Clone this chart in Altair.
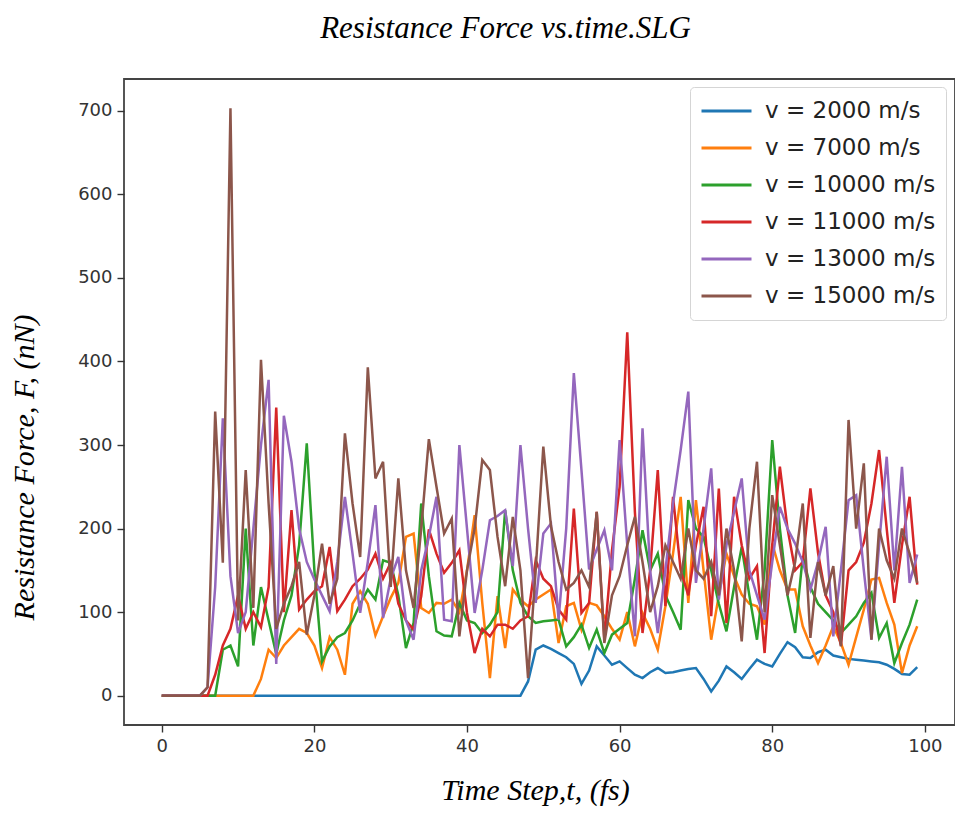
import altair as alt
import pandas as pd

t_steps = list(range(100))

series_labels = ["v = 2000 m/s", "v = 7000 m/s", "v = 10000 m/s",
                 "v = 11000 m/s", "v = 13000 m/s", "v = 15000 m/s"]
series_colors = ["#1f77b4", "#ff7f0e", "#2ca02c", "#d62728", "#9467bd", "#8c564b"]

v2000 = [0, 0, 0, 0, 0, 0, 0, 0, 0, 0, 0, 0, 0, 0, 0, 0, 0, 0, 0, 0,
         0, 0, 0, 0, 0, 0, 0, 0, 0, 0, 0, 0, 0, 0, 0, 0, 0, 0, 0, 0,
         0, 0, 0, 0, 0, 0, 0, 0,
         17, 55, 60, 56, 51, 46, 38, 14, 30, 59,
         48, 37, 41, 33, 25, 21, 28, 33, 27, 28,
         30, 32, 33, 20, 5, 18, 35, 28, 20, 32,
         43, 38, 35, 50, 64, 58, 46, 45, 52, 55,
         48, 46, 44, 43, 42, 41, 40, 37, 32, 26,
         25, 34]

v7000 = [0, 0, 0, 0, 0, 0, 0, 0, 0, 0, 0, 0, 0,
         20, 55, 45, 60, 70, 80, 75, 60, 33, 70,
         55, 25, 110, 125, 110, 72, 95, 117, 135, 190,
         194, 105, 99, 111, 110, 115, 100, 150, 216, 111,
         21, 119, 57, 127, 115, 107, 115, 121, 127, 63,
         107, 111, 79, 111, 108, 95, 80, 67, 100, 59,
         99, 80, 55, 107, 170, 238, 111, 234, 150, 67,
         120, 170, 143, 121, 110, 107, 85, 182, 150, 127,
         127, 83, 60, 39, 60, 83, 63, 37, 70, 103,
         139, 141, 111, 85, 27, 60, 83]

v10000 = [0, 0, 0, 0, 0, 0, 0, 0,
          55, 60, 35, 200, 60, 130, 90, 50, 90, 120,
          180, 302, 150, 41, 59, 70, 75, 90, 110, 127,
          115, 162, 159, 120, 57, 87, 230, 143, 77, 72,
          71, 111, 90, 87, 75, 85, 100, 222, 150, 111,
          95, 87, 89, 90, 91, 59, 70, 85, 57, 79,
          51, 73, 80, 87, 140, 198, 150, 170, 120, 100,
          79, 234, 200, 190, 150, 110, 77, 130, 178, 120,
          67, 150, 306, 200, 120, 75, 167, 130, 110, 100,
          90, 75, 85, 95, 111, 123, 69, 87, 39, 63,
          85, 115]

v11000 = [0, 0, 0, 0, 0, 0, 0,
          25, 60, 80, 120, 80, 100, 82, 130, 345, 100,
          222, 103, 115, 125, 131, 178, 101, 115, 131, 140,
          151, 170, 140, 159, 110, 90, 79, 119, 199, 170,
          147, 159, 174, 99, 51, 80, 71, 85, 85, 80,
          90, 95, 162, 140, 131, 103, 91, 224, 99, 111,
          220, 67, 174, 250, 435, 220, 75, 150, 270, 107,
          238, 150, 120, 180, 226, 95, 248, 87, 238, 180,
          140, 155, 51, 180, 274, 200, 150, 160, 248, 171,
          120, 100, 60, 150, 160, 183, 230, 294, 200, 111,
          180, 238, 133]

v13000 = [0, 0, 0, 0, 0, 0,
          10, 130, 332, 143, 75, 100, 200, 300, 378, 38,
          335, 280, 200, 160, 139, 120, 101, 160, 238, 170,
          99, 160, 228, 93, 140, 166, 90, 67, 150, 190,
          238, 91, 89, 300, 200, 99, 150, 210, 215, 222,
          155, 300, 200, 111, 194, 206, 91, 200, 386, 270,
          151, 175, 198, 150, 306, 180, 71, 320, 150, 75,
          150, 230, 294, 364, 135, 200, 272, 115, 180, 220,
          260, 150, 120, 91, 160, 226, 200, 182, 160, 127,
          160, 202, 71, 150, 234, 240, 150, 67, 180, 286,
          150, 274, 135, 169]

v15000 = [0, 0, 0, 0, 0, 0,
          10, 340, 159, 703, 90, 270, 105, 402, 230, 80,
          110, 131, 160, 73, 120, 182, 110, 140, 314, 230,
          166, 393, 260, 280, 130, 260, 150, 105, 200, 307,
          250, 194, 212, 71, 150, 200, 282, 270, 190, 131,
          214, 150, 21, 150, 298, 203, 160, 127, 135, 150,
          130, 220, 63, 120, 143, 180, 214, 160, 100, 131,
          180, 160, 140, 200, 150, 140, 160, 120, 200, 150,
          65, 200, 280, 100, 240, 180, 120, 160, 230, 69,
          160, 120, 155, 59, 330, 200, 278, 67, 200, 162,
          140, 200, 170, 135]

x_ticks = [0, 20, 40, 60, 80, 100]
y_ticks = [0, 100, 200, 300, 400, 500, 600, 700]

all_series = [v2000, v7000, v10000, v11000, v13000, v15000]
rows = []
for k, (lab, vals) in enumerate(zip(series_labels, all_series)):
    for t, v in zip(t_steps, vals):
        rows.append({"t": t, "F": v, "series": lab, "k": k})
df = pd.DataFrame(rows)

axis_common = dict(grid=False, domain=False, tickSize=7, tickWidth=1.4,
                   tickColor="#333333", labelFont="DejaVu Sans", labelFontSize=18,
                   labelColor="#333333", labelPadding=5,
                   titleFont="Liberation Serif", titleFontStyle="italic",
                   titleFontSize=30, titleFontWeight="normal", titleColor="black")

chart = alt.Chart(df).mark_line(strokeWidth=2.5).encode(
    x=alt.X("t:Q",
            scale=alt.Scale(domain=[-4.95, 103.95], nice=False, zero=False),
            axis=alt.Axis(values=x_ticks, title="Time Step,t, (fs)",
                          titlePadding=20, titleX=411, **axis_common)),
    y=alt.Y("F:Q",
            scale=alt.Scale(domain=[-35.15, 738.15], nice=False, zero=False),
            axis=alt.Axis(values=y_ticks, title="Resistance Force, F, (nN)",
                          titlePadding=38, titleY=388, **axis_common)),
    color=alt.Color("series:N",
                    scale=alt.Scale(domain=series_labels, range=series_colors),
                    sort=series_labels,
                    legend=alt.Legend(orient="none", legendX=566, legendY=8,
                                      title=None, symbolType="stroke",
                                      symbolSize=2500, symbolStrokeWidth=2.8,
                                      clipHeight=28, rowPadding=9.0,
                                      labelFont="DejaVu Sans", labelFontSize=23,
                                      labelLimit=400,
                                      labelColor="#222222", labelOffset=12,
                                      fillColor="white", strokeColor="#d5d5d5",
                                      cornerRadius=4, padding=10)),
    order=alt.Order("k:Q"),
    detail="series:N",
).properties(
    width=831,
    height=646,
    background="white",
    title=alt.TitleParams("Resistance Force vs.time.SLG", font="Liberation Serif",
                          fontStyle="italic", fontSize=31, fontWeight="normal",
                          color="black", anchor="middle", dx=-34, offset=34),
    autosize=alt.AutoSizeParams(type="none"),
    padding={"left": 124, "top": 79, "right": 0, "bottom": 91},
).configure_view(
    stroke="#444444", strokeWidth=1.8
)

chart.save("out.html", embed_options={"renderer": "svg", "actions": False})
